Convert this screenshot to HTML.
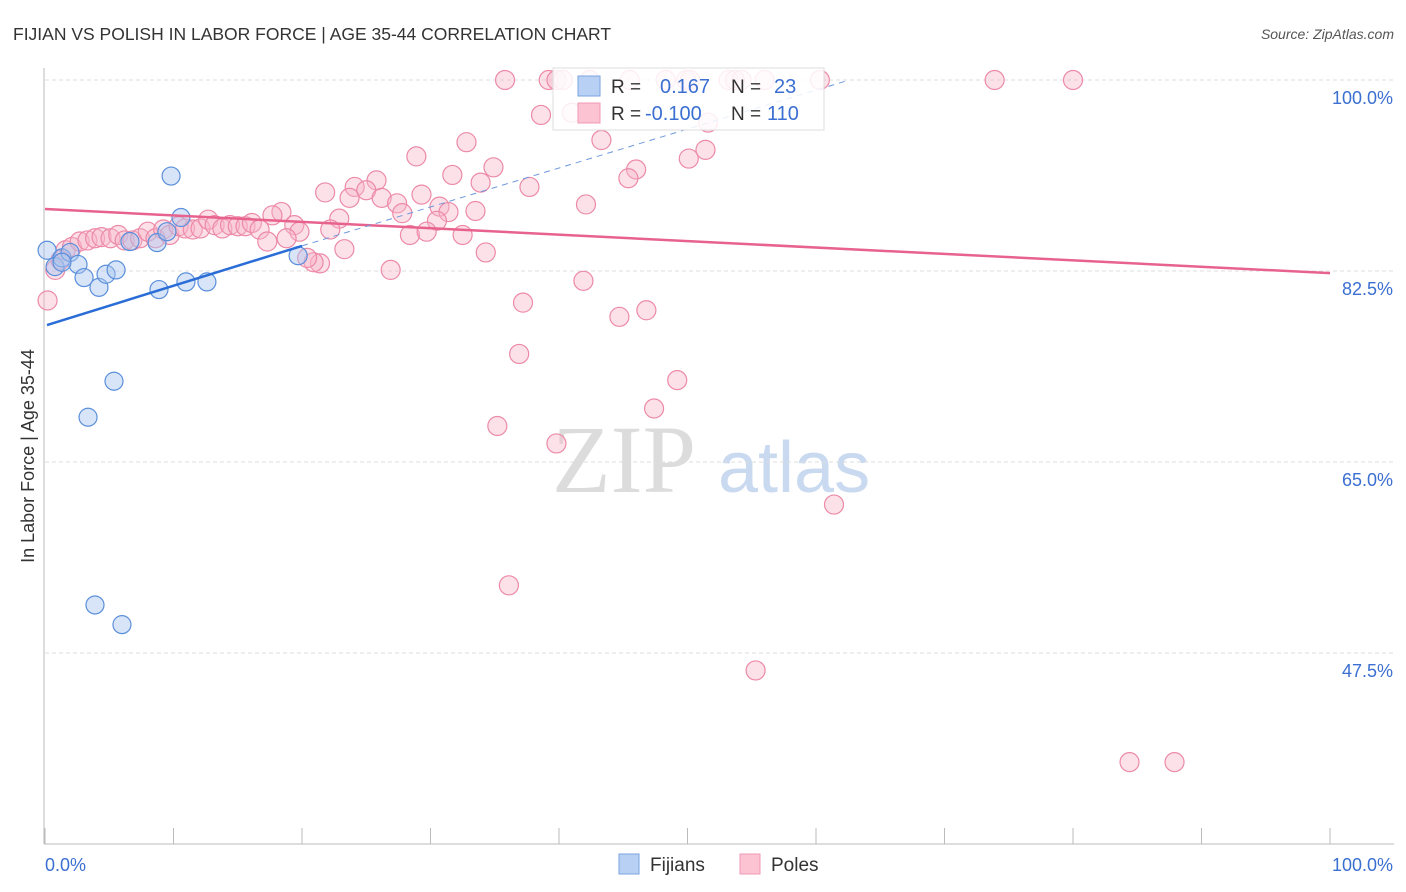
<!DOCTYPE html>
<html><head><meta charset="utf-8"><style>
body{margin:0;background:#fff;font-family:"Liberation Sans",sans-serif;}
svg{display:block}
</style></head><body>
<svg width="1406" height="892" viewBox="0 0 1406 892">
<text x="13" y="40" font-size="17.5" fill="#333">FIJIAN VS POLISH IN LABOR FORCE | AGE 35-44 CORRELATION CHART</text>
<text x="1394" y="39" font-size="14" fill="#555" font-style="italic" text-anchor="end">Source: ZipAtlas.com</text>
<g>
<text x="552" y="492" font-family="Liberation Serif,serif" font-size="96" fill="#dcdcdc">ZIP</text>
<text x="718" y="492" font-size="72" fill="#c9d9f0">atlas</text>
</g>
<g id="grid"></g>
<g id="axes"></g>
<g id="pts"></g>
<g id="trends"></g>
<g>
<rect x="553" y="68" width="271" height="62" fill="#fff" fill-opacity="0.85" stroke="#ddd"/>
<rect x="578" y="76" width="22" height="20" fill="#b8d0f4" stroke="#7aa3e0"/>
<rect x="578" y="103" width="22" height="20" fill="#fcc3d3" stroke="#f09ab4"/>
<text x="611" y="93" font-size="19" fill="#333">R =</text>
<text x="660" y="93" font-size="20" fill="#3b6fd1">0.167</text>
<text x="731" y="93" font-size="19" fill="#333">N =</text>
<text x="774" y="93" font-size="20" fill="#3b6fd1">23</text>
<text x="611" y="120" font-size="19" fill="#333">R =</text>
<text x="645" y="120" font-size="20" fill="#3b6fd1">-0.100</text>
<text x="731" y="120" font-size="19" fill="#333">N =</text>
<text x="767" y="120" font-size="20" fill="#3b6fd1">110</text>
</g>
<g>
<rect x="619" y="854" width="20" height="20" fill="#b8d0f4" stroke="#7aa3e0"/>
<text x="650" y="871" font-size="19" fill="#333">Fijians</text>
<rect x="740" y="854" width="20" height="20" fill="#fcc3d3" stroke="#f09ab4"/>
<text x="771" y="871" font-size="19" fill="#333">Poles</text>
</g>
</svg>
<script>
const yTicks=[100,82.5,65,47.5];
const yTickLabels=["100.0%","82.5%","65.0%","47.5%"];
const xTickLabels=["0.0%","100.0%"];
const fijX=[0.16,0.78,1.32,1.95,2.57,3.04,4.2,4.75,5.53,5.37,3.35,3.89,5.99,6.61,8.72,8.87,9.81,10.58,9.49,10.97,12.6,19.7,1.32];
const fijY=[84.4,82.9,83.7,84.2,83.1,81.9,81.0,82.2,82.6,72.4,69.1,51.9,50.1,85.2,85.1,80.8,91.2,87.4,86.1,81.5,81.5,83.9,83.3];
const polX=[35.8,39.2,39.8,40.3,42.4,45.5,48.3,49.9,50.2,53.2,53.7,54.2,56.0,60.3,73.9,80.0,
38.6,41.0,51.6,43.3,32.8,28.9,51.4,34.9,31.7,46.0,45.4,50.1,25.8,24.1,25.0,21.8,23.7,26.2,27.4,29.3,33.9,37.7,42.1,27.8,30.7,31.4,33.5,30.5,32.5,28.4,29.7,22.9,22.2,18.4,17.7,19.4,19.8,23.3,21.4,20.9,20.4,26.9,34.3,37.2,41.9,44.7,46.8,36.9,49.2,47.4,35.2,39.8,61.4,36.1,55.3,84.4,87.9,
1.6,2.1,2.7,3.3,3.9,4.4,5.1,5.7,6.2,6.8,7.4,8.0,8.6,9.2,9.7,10.4,10.9,11.5,12.1,12.7,13.2,13.8,14.4,15.0,15.6,16.1,16.7,17.3,18.8,1.2,0.2,0.8];
const polY=[100,100,100,100,100,100,100,100,100,100,100,100,100,100,100,100,
96.8,97.0,96.1,94.5,94.3,93.0,93.6,92.0,91.3,91.8,91.0,92.8,90.8,90.2,89.9,89.7,89.2,89.2,88.7,89.5,90.6,90.2,88.6,87.8,88.4,87.9,88.0,87.1,85.8,85.8,86.1,87.3,86.3,87.9,87.6,86.7,86.1,84.5,83.2,83.3,83.7,82.6,84.2,79.6,81.6,78.3,78.9,74.9,72.5,69.9,68.3,66.7,61.1,53.7,45.9,37.5,37.5,
84.4,84.7,85.2,85.3,85.5,85.6,85.5,85.8,85.3,85.3,85.5,86.1,85.5,86.3,85.8,86.6,86.4,86.3,86.4,87.2,86.7,86.4,86.7,86.6,86.6,86.9,86.3,85.2,85.5,83.5,79.8,82.6];
const polBig={106:18,107:22,108:15};
const fijTrend=[[0,77.55],[20,84.8]];
const fijTrendDash=[[20,84.8],[62.6,100]];
const polTrend=[[0,88.18],[100,82.3]];
const X=v=>45+v*12.85, Y=v=>80+(100-v)*10.914;
const NS="http://www.w3.org/2000/svg";
function mk(t,a,p){const e=document.createElementNS(NS,t);for(const k in a)e.setAttribute(k,a[k]);p.appendChild(e);return e;}
const grid=document.getElementById('grid'),axes=document.getElementById('axes'),pts=document.getElementById('pts'),tr=document.getElementById('trends');
yTicks.forEach((v,i)=>{
 const l=mk('line',{x1:45,x2:1394,y1:Y(v),y2:Y(v),stroke:'#ddd','stroke-dasharray':'4,3'},grid);
 
 
 const t=mk('text',{x:1393,y:Y(v)+24,'font-size':18,fill:'#3b6fd1','text-anchor':'end'},axes);
 t.textContent=yTickLabels[i];
 
 
});
mk('line',{x1:44,x2:44,y1:68,y2:844,stroke:'#bbb'},axes);
mk('line',{x1:44,x2:1394,y1:844,y2:844,stroke:'#bbb'},axes);
for(let i=0;i<=10;i++){const tk=mk('line',{x1:X(i*10),x2:X(i*10),y1:828,y2:844,stroke:'#bbb'},axes);}
const xl0=mk('text',{x:45,y:871,'font-size':18,fill:'#3b6fd1'},axes);xl0.textContent=xTickLabels[0];


const xl1=mk('text',{x:1393,y:871,'font-size':18,fill:'#3b6fd1','text-anchor':'end'},axes);xl1.textContent=xTickLabels[1];


const yt=mk('text',{x:0,y:0,'font-size':18,fill:'#333','text-anchor':'middle',transform:'translate(34,456) rotate(-90)'},axes);yt.textContent='In Labor Force | Age 35-44';


polX.forEach((v,i)=>{
 const c=mk('circle',{cx:X(v),cy:Y(polY[i]),r:polBig[i]||9.5,fill:'#f8b4c8','fill-opacity':0.4,stroke:'#ec8aa8','stroke-width':1.2},pts);
 
 
});
fijX.forEach((v,i)=>{
 const c=mk('circle',{cx:X(v),cy:Y(fijY[i]),r:9,fill:'#a9c6f0','fill-opacity':0.45,stroke:'#5b8fdb','stroke-width':1.2},pts);
 
 
});
const l1=mk('line',{x1:X(polTrend[0][0]),y1:Y(polTrend[0][1]),x2:X(polTrend[1][0]),y2:Y(polTrend[1][1]),stroke:'#e8628e','stroke-width':2.5},tr);


const l2=mk('line',{x1:X(fijTrend[0][0])+2,y1:Y(fijTrend[0][1]),x2:X(fijTrend[1][0]),y2:Y(fijTrend[1][1]),stroke:'#2a6dd6','stroke-width':2.5},tr);


const l3=mk('line',{x1:X(fijTrendDash[0][0]),y1:Y(fijTrendDash[0][1]),x2:X(fijTrendDash[1][0]),y2:Y(fijTrendDash[1][1]),stroke:'#6f98dc','stroke-width':1,'stroke-dasharray':'6,5'},tr);


</script>
</body></html>
